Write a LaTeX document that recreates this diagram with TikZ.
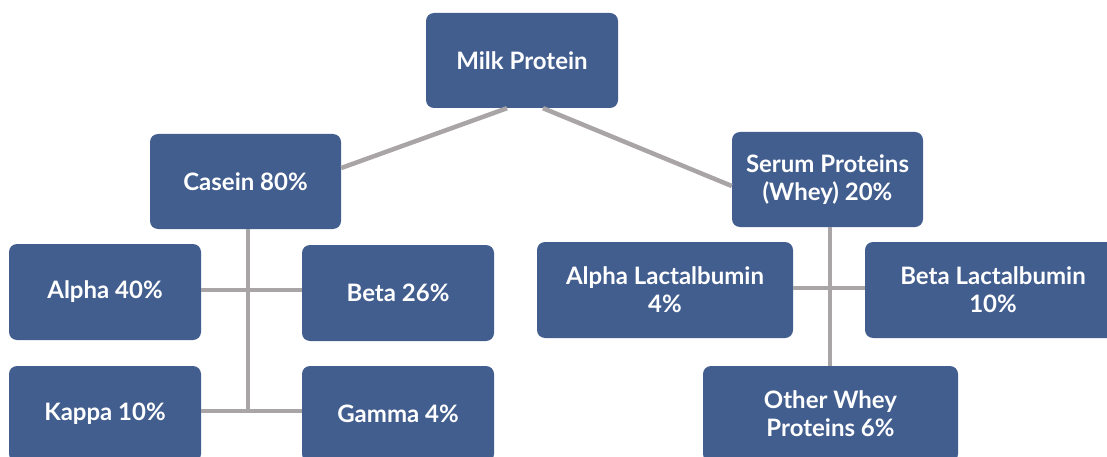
\documentclass[tikz,border=0pt]{standalone}
\usepackage{fontspec}
\setmainfont{Lato}[UprightFont=* Bold]
\definecolor{boxblue}{HTML}{425E8F}
\definecolor{linegray}{HTML}{A9A5A6}
\begin{document}
\begin{tikzpicture}[x=1pt,y=-1pt,
  pbox/.style={rectangle, rounded corners=8pt, fill=boxblue, text=white,
    inner sep=0pt, align=center, font=\fontsize{24}{28}\selectfont},
  conn/.style={draw=linegray, line width=4.5pt}]
\useasboundingbox (0,0) rectangle (1107,457);
% nodes
\node[pbox, minimum width=192pt, minimum height=95pt] (milk) at (522,60.5) {Milk Protein};
\node[pbox, minimum width=191pt, minimum height=95pt] (casein) at (245.5,181.5) {Casein 80\%};
\node[pbox, minimum width=191pt, minimum height=95pt] (serum) at (827.5,179.5) {Serum Proteins\\(Whey) 20\%};
\node[pbox, minimum width=192pt, minimum height=96pt] (alpha) at (105,292) {Alpha 40\%};
\node[pbox, minimum width=192pt, minimum height=96pt] (beta) at (398,293) {Beta 26\%};
\node[pbox, minimum width=192pt, minimum height=96pt] (kappa) at (105,414) {Kappa 10\%};
\node[pbox, minimum width=192pt, minimum height=96pt] (gamma) at (398,414) {Gamma 4\%};
\node[pbox, minimum width=256pt, minimum height=96pt] (alac) at (665,290) {Alpha Lactalbumin\\4\%};
\node[pbox, minimum width=256pt, minimum height=96pt] (blac) at (993,290) {Beta Lactalbumin\\10\%};
\node[pbox, minimum width=255pt, minimum height=96pt] (other) at (830.5,414) {Other Whey\\Proteins 6\%};
% coordinates
\coordinate (cs) at (248,229);
\coordinate (cj1) at (248,290);
\coordinate (cj2) at (248,411);
\coordinate (ws) at (830,227);
\coordinate (wj) at (830,288);
% connectors
\path[conn] (milk.south -| 507,0) -- (casein.east |- 0,168);
\path[conn] (milk.south -| 543,0) -- (serum.west |- 0,186);
\path[conn] (cs) -- (cj2);
\path[conn] (alpha.east |- cj1) -- (beta.west |- cj1);
\path[conn] (kappa.east |- cj2) -- (gamma.west |- cj2);
\path[conn] (ws) -- (other.north -| ws);
\path[conn] (alac.east |- wj) -- (blac.west |- wj);
\end{tikzpicture}
\end{document}
